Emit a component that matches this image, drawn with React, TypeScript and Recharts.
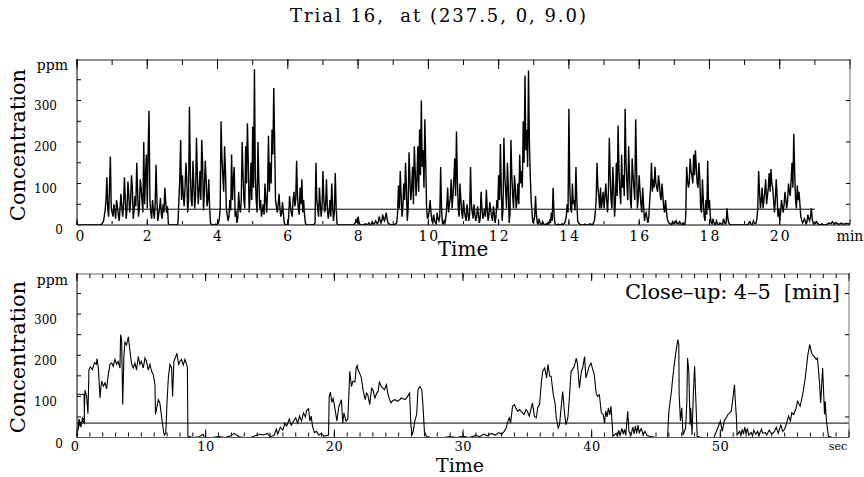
import React from "react";
import { Line, LineChart, XAxis, YAxis } from "recharts";

const serif = "'DejaVu Serif', 'Liberation Serif', serif";

// Top panel: whole trial, one sample every 0.025 min (1.5 s)
const TOP_STEP = 0.025;
const TOP_VALUES = [
  // 0 min
  0, 0, 0, 0, 0, 0, 0, 0, 0, 0, 0, 0, 0, 0, 0, 0, 0, 0, 0, 0, 0, 0, 0, 0, 0, 0, 0, 1, 2, 5, 8, 20, 35, 60, 115, 40, 20, 90, 165, 40,
  // 1
  30, 20, 50, 35, 15, 60, 45, 25, 10, 40, 75, 45, 20, 50, 115, 60, 15, 40, 105, 70, 30, 55, 120, 90, 15, 35, 70, 45, 150, 80, 20, 40, 110, 90, 60, 30, 200, 50, 120, 170,
  // 2
  40, 180, 275, 60, 30, 15, 60, 35, 15, 50, 145, 60, 10, 25, 40, 65, 25, 15, 50, 30, 90, 55, 30, 45, 3, 1, 0, 0, 0, 0, 0, 0, 0, 0, 0, 5, 60, 110, 205, 60,
  // 3
  120, 70, 45, 90, 150, 110, 30, 60, 285, 130, 60, 45, 155, 100, 40, 70, 210, 120, 50, 80, 130, 60, 205, 150, 35, 80, 155, 110, 45, 60, 110, 40, 5, 2, 0, 0, 0, 0, 2, 0,
  // 4
  3, 5, 15, 40, 250, 160, 120, 80, 190, 130, 40, 25, 10, 20, 60, 35, 170, 60, 110, 140, 20, 35, 5, 15, 80, 45, 30, 60, 200, 120, 60, 40, 190, 100, 245, 150, 30, 70, 150, 60,
  // 5
  237, 90, 375, 120, 60, 30, 200, 110, 40, 60, 20, 35, 50, 25, 100, 60, 30, 90, 215, 80, 150, 100, 230, 170, 330, 200, 60, 45, 30, 50, 75, 40, 20, 30, 55, 25, 5, 2, 0, 0,
  // 6
  0, 20, 70, 45, 30, 20, 60, 80, 45, 60, 155, 70, 40, 25, 90, 50, 110, 30, 60, 25, 5, 1, 0, 0, 0, 0, 0, 0, 0, 0, 2, 5, 150, 60, 40, 20, 90, 50, 20, 45,
  // 7
  130, 60, 30, 50, 110, 40, 15, 30, 60, 20, 100, 50, 10, 30, 125, 45, 3, 1, 0, 0, 0, 0, 0, 0, 0, 0, 0, 0, 0, 0, 0, 0, 0, 0, 0, 0, 3, 6, 15, 5,
  // 8
  20, 8, 2, 0, 0, 0, 0, 1, 3, 2, 0, 1, 5, 3, 0, 2, 8, 4, 2, 5, 10, 6, 3, 8, 20, 12, 5, 10, 25, 15, 10, 18, 30, 15, 5, 3, 2, 1, 0, 0,
  // 9
  0, 1, 2, 3, 5, 30, 95, 40, 130, 70, 20, 45, 100, 60, 150, 90, 10, 40, 175, 110, 60, 90, 140, 50, 190, 130, 70, 110, 190, 80, 230, 120, 300, 140, 180, 90, 255, 150, 40, 15,
  // 10
  20, 35, 60, 30, 10, 5, 25, 12, 5, 3, 30, 15, 10, 20, 140, 40, 5, 2, 10, 5, 20, 45, 90, 30, 50, 65, 110, 40, 70, 110, 160, 70, 225, 110, 40, 20, 100, 60, 30, 15,
  // 11
  60, 35, 20, 10, 50, 30, 10, 25, 140, 50, 30, 15, 50, 25, 10, 20, 45, 25, 5, 15, 80, 40, 15, 25, 40, 20, 85, 40, 10, 25, 55, 35, 20, 10, 45, 30, 5, 20, 60, 40,
  // 12
  120, 60, 195, 90, 10, 40, 210, 120, 80, 40, 150, 90, 5, 30, 205, 120, 70, 40, 120, 90, 40, 60, 100, 50, 170, 100, 130, 90, 250, 150, 360, 180, 230, 140, 372, 200, 120, 60, 30, 5,
  // 13
  10, 20, 70, 25, 5, 2, 15, 6, 2, 1, 8, 4, 0, 0, 3, 1, 5, 2, 10, 5, 30, 10, 90, 30, 5, 2, 0, 0, 2, 1, 0, 0, 3, 1, 2, 4, 10, 20, 50, 30,
  // 14
  280, 90, 40, 30, 100, 50, 60, 35, 140, 60, 10, 5, 3, 1, 0, 0, 0, 0, 2, 1, 0, 0, 0, 1, 3, 2, 0, 1, 5, 10, 30, 60, 150, 90, 70, 40, 90, 40, 60, 80,
  // 15
  40, 70, 100, 60, 30, 80, 210, 120, 60, 40, 140, 90, 20, 60, 150, 70, 240, 130, 80, 50, 170, 90, 120, 70, 280, 150, 100, 60, 190, 120, 60, 40, 160, 120, 90, 60, 255, 140, 40, 70,
  // 16
  120, 80, 50, 30, 90, 50, 10, 25, 30, 15, 5, 20, 60, 90, 150, 80, 110, 90, 140, 100, 90, 80, 120, 100, 70, 60, 100, 70, 40, 30, 60, 35, 15, 8, 5, 3, 2, 1, 8, 4,
  // 17
  3, 6, 10, 4, 5, 2, 8, 5, 2, 1, 5, 2, 0, 20, 140, 110, 90, 100, 160, 130, 120, 100, 170, 120, 180, 140, 100, 90, 150, 110, 40, 30, 110, 60, 20, 10, 60, 25, 155, 40,
  // 18
  60, 20, 5, 3, 15, 6, 2, 1, 10, 4, 0, 1, 5, 3, 2, 1, 15, 8, 3, 5, 40, 15, 5, 2, 0, 0, 0, 0, 0, 0, 0, 0, 0, 0, 0, 0, 0, 0, 0, 0,
  // 19
  0, 0, 0, 0, 2, 5, 8, 3, 0, 2, 10, 5, 3, 4, 15, 40, 130, 80, 40, 60, 90, 40, 60, 80, 110, 50, 70, 90, 125, 80, 135, 100, 90, 60, 30, 60, 110, 70, 20, 40,
  // 20
  10, 30, 60, 45, 30, 50, 80, 60, 40, 60, 100, 80, 70, 110, 150, 90, 220, 130, 60, 40, 95, 60, 80, 50, 20, 12, 5, 8, 15, 10, 3, 6, 25, 15, 10, 20, 40, 15, 5, 2,
  // 21
  3, 5, 8, 4, 2, 1, 0, 1, 3, 1, 0, 0, 0, 1, 2, 3, 5, 4, 3, 5, 8, 5, 2, 4, 6, 4, 3, 2, 2, 3, 5, 3, 2, 2, 3, 3, 4, 3, 3, 2,
  // 22
  2,
];

// Bottom panel: close-up of 4-5 min, [seconds, ppm]
const CLOSEUP_POINTS: [number, number][] = [
  [0, 105], [0.55, 105], [0.58, 40], [0.42, 48], [0.3, 25], [0.15, 45], [0.05, 15], [0.2, 35], [0.45, 40], [0.55, 35],
  [0.62, 115], [0.75, 100], [0.85, 58], [0.93, 165], [1.05, 172], [1.2, 165], [1.35, 182], [1.5, 178], [1.55, 192],
  [1.66, 169], [1.79, 96], [1.85, 120], [1.92, 137], [2.05, 125], [2.18, 133], [2.3, 118], [2.43, 153], [2.56, 178],
  [2.7, 181], [2.82, 173], [2.95, 190], [3.08, 178], [3.2, 185], [3.34, 169], [3.39, 250], [3.47, 238], [3.55, 80],
  [3.65, 201], [3.73, 232], [3.85, 225], [3.99, 245], [4.12, 210], [4.25, 178], [4.37, 169], [4.5, 181], [4.63, 164],
  [4.76, 197], [4.89, 178], [5.0, 185], [5.15, 169], [5.28, 193], [5.4, 185], [5.54, 164], [5.67, 178], [5.8, 161],
  [5.93, 153], [6.06, 128], [6.1, 56], [6.2, 72], [6.32, 92], [6.44, 84], [6.52, 64], [6.65, 31], [6.78, 6], [6.9, 10],
  [7.0, 88], [7.1, 145], [7.22, 178], [7.35, 169], [7.43, 100], [7.53, 185], [7.68, 197], [7.76, 205], [7.9, 178],
  [8.0, 185], [8.13, 190], [8.26, 176], [8.39, 190], [8.52, 178], [8.58, 170], [8.62, 3],
  [9.0, 0], [9.5, 2], [9.8, 8], [9.9, 0], [10.5, 0], [11.0, 2], [11.5, 0], [12.0, 5], [12.2, 10], [12.4, 6], [12.6, 2],
  [13.0, 0], [13.5, 0], [13.9, 5], [14.2, 8], [14.5, 6], [14.8, 10], [15.0, 2], [15.3, 5], [15.5, 20], [15.6, 8],
  [15.8, 25], [16.0, 18], [16.15, 35], [16.3, 28], [16.5, 45], [16.65, 30], [16.8, 38], [17.0, 48], [17.15, 35],
  [17.3, 52], [17.45, 40], [17.6, 60], [17.75, 50], [17.85, 66], [18.0, 70], [18.1, 40], [18.2, 52], [18.3, 28],
  [18.45, 12], [18.6, 15], [18.8, 6], [19.0, 10], [19.2, 3], [19.4, 5], [19.55, 6], [19.6, 100], [19.7, 110],
  [19.8, 85], [19.9, 95], [20.0, 80],
  [20.1, 60], [20.2, 40], [20.35, 75], [20.55, 92], [20.65, 35], [20.75, 60], [20.9, 40], [21.05, 45], [21.15, 120],
  [21.2, 161], [21.33, 124], [21.45, 137], [21.6, 135], [21.7, 169], [21.78, 175], [21.85, 164], [21.97, 156],
  [22.1, 145], [22.25, 112], [22.4, 92], [22.5, 108], [22.6, 104], [22.75, 80], [22.9, 120], [23.0, 116], [23.15, 96],
  [23.3, 108], [23.4, 112], [23.5, 135], [23.65, 124], [23.9, 116], [24.05, 128], [24.15, 108], [24.3, 92], [24.4, 84],
  [24.55, 90], [24.7, 92], [24.95, 88], [25.2, 96], [25.5, 92], [25.7, 100], [25.85, 108], [25.95, 31], [26.05, 6],
  [26.15, 18], [26.25, 40], [26.4, 56], [26.5, 116], [26.65, 124], [26.8, 116], [26.9, 72], [27.0, 15], [27.15, 3],
  [27.5, 0], [28.5, 0], [29.0, 2], [29.5, 0], [30.0, 3], [30.5, 0], [31.0, 5], [31.3, 2], [31.6, 8], [31.9, 4],
  [32.2, 10], [32.5, 6], [32.8, 12], [33.0, 8], [33.2, 15], [33.35, 23], [33.5, 40], [33.6, 48], [33.7, 35],
  [33.85, 76], [34.0, 80], [34.1, 72], [34.25, 64], [34.4, 68], [34.5, 64], [34.75, 56], [34.9, 68], [35.0, 64],
  [35.15, 52], [35.3, 72], [35.4, 84], [35.55, 52], [35.7, 48], [35.8, 72], [35.95, 80], [36.1, 137], [36.2, 161],
  [36.35, 169], [36.5, 145], [36.6, 178], [36.75, 149], [36.85, 149], [37.0, 108], [37.15, 84], [37.25, 48],
  [37.4, 23], [37.5, 31], [37.65, 80], [37.75, 112], [37.9, 56], [38.0, 31], [38.15, 48], [38.25, 88], [38.4, 161],
  [38.5, 165], [38.65, 173], [38.8, 193], [38.9, 178], [39.05, 120], [39.2, 161], [39.3, 169], [39.45, 197],
  [39.55, 145], [39.7, 161], [39.8, 173], [39.95, 181], [40.1, 164], [40.2, 153], [40.35, 108], [40.45, 100],
  [40.6, 104], [40.75, 60], [40.9, 56], [41.0, 35], [41.1, 64], [41.2, 50], [41.3, 72], [41.4, 55], [41.5, 76],
  [41.6, 31], [41.65, 3],
  [41.9, 10], [42.0, 3], [42.1, 18], [42.2, 5], [42.35, 22], [42.45, 8], [42.55, 20], [42.65, 5], [42.8, 64],
  [42.9, 15], [43.05, 5], [43.2, 25], [43.3, 8], [43.4, 28], [43.5, 10], [43.6, 30], [43.7, 12], [43.85, 22],
  [44.0, 8], [44.15, 15], [44.3, 5], [44.5, 3], [45.0, 0], [45.5, 0], [45.9, 0], [46.0, 64], [46.2, 112], [46.3, 145],
  [46.45, 185], [46.55, 209], [46.7, 238], [46.77, 226], [46.8, 104], [46.9, 40], [47.0, 72], [47.1, 6], [47.3, 23],
  [47.4, 88], [47.45, 193], [47.55, 161], [47.65, 31], [47.7, 72], [47.8, 6], [47.9, 104], [48.0, 173], [48.1, 88],
  [48.2, 3], [48.5, 0], [49.0, 0], [49.5, 0], [49.8, 23], [50.0, 40], [50.15, 15], [50.3, 40], [50.6, 56],
  [50.85, 64], [50.95, 88], [51.1, 128], [51.15, 96], [51.25, 48], [51.3, 6], [51.5, 15], [51.6, 5], [51.7, 20],
  [51.8, 8], [51.9, 25], [52.0, 10], [52.1, 22], [52.2, 6], [52.4, 12], [52.5, 4], [52.6, 18], [52.75, 8], [52.9, 15],
  [53.0, 5], [53.2, 20], [53.3, 10], [53.5, 12], [53.6, 6], [53.8, 18], [54.0, 8], [54.2, 14], [54.35, 25],
  [54.5, 10], [54.7, 30], [54.85, 15], [55.0, 20], [55.15, 35], [55.3, 52], [55.45, 40], [55.55, 60], [55.7, 56],
  [55.85, 68], [56.0, 88], [56.2, 76], [56.4, 104], [56.6, 145], [56.8, 201], [56.95, 226], [57.1, 205], [57.2, 200],
  [57.3, 197], [57.45, 190], [57.55, 193], [57.7, 137], [57.8, 84], [57.95, 169], [58.1, 56], [58.15, 88],
  [58.25, 40], [58.4, 3], [58.7, 0], [59.2, 0], [59.6, 0], [60, 0],
];

// Horizontal reference levels drawn across each panel
const TOP_REF_SPAN = [1, 21];
const TOP_REF_LEVEL = 38;
const CLOSEUP_REF_SPAN = [0, 60];
const CLOSEUP_REF_LEVEL = 35;

const TOP_X_LABELS = [0, 2, 4, 6, 8, 10, 12, 14, 16, 18, 20, 22];
const TOP_X_MINOR = Array.from({ length: 23 }, (_, i) => i);
const TOP_X_MAJOR = TOP_X_LABELS;
const CLOSEUP_X_LABELS = [0, 10, 20, 30, 40, 50, 60];
const CLOSEUP_X_MINOR = Array.from({ length: 61 }, (_, i) => i);
const CLOSEUP_X_MAJOR = CLOSEUP_X_LABELS;
const Y_LABELS = [0, 100, 200, 300, 400];
const Y_INNER_TICKS = [50, 100, 150, 200, 250, 300, 350];
const TOP_RIGHT_TICKS = [50, 100, 200, 300];
const CLOSEUP_RIGHT_TICKS = [50, 150, 250, 350];

const topData = TOP_VALUES.map((v, i) => ({ t: +(i * TOP_STEP).toFixed(3), v }));
const topRef = TOP_REF_SPAN.map((t) => ({ t, v: TOP_REF_LEVEL }));
const closeupData = CLOSEUP_POINTS.map(([t, v]) => ({ t, v }));
const closeupRef = CLOSEUP_REF_SPAN.map((t) => ({ t, v: CLOSEUP_REF_LEVEL }));

// tick marks only, no label (tick={false} would drop the marks too)
const NoLabel = () => <g />;

function XTickLabel(props: any) {
  const { x, y, payload, unit, unitValue, size, spacing, zeroShift, unitShift, unitSize, dy } = props;
  const v = payload.value;
  if (v === unitValue) {
    return (
      <text x={x + unitShift} y={y + dy} textAnchor="middle" dominantBaseline="central" fontSize={unitSize} fontFamily={serif} fill="#000">
        {unit}
      </text>
    );
  }
  return (
    <text
      x={x + (v === 0 ? zeroShift : 0) + spacing / 2}
      y={y + dy}
      textAnchor="middle"
      dominantBaseline="central"
      fontSize={size}
      letterSpacing={spacing}
      fontFamily={serif}
      fill="#000"
    >
      {v}
    </text>
  );
}

function YTickLabel(props: any) {
  const { x, y, payload, dy } = props;
  const v = payload.value;
  if (v === 400) {
    return (
      <text x={x - 9} y={y + dy + 1} textAnchor="end" dominantBaseline="central" fontSize={14} fontFamily={serif} fill="#000">
        ppm
      </text>
    );
  }
  if (v === 0) {
    return (
      <text x={x - 18} y={y + dy} textAnchor="middle" dominantBaseline="central" fontSize={12} fontFamily={serif} fill="#000">
        0
      </text>
    );
  }
  return (
    <text x={x - 20} y={y + dy} textAnchor="end" dominantBaseline="central" fontSize={12} fontFamily={serif} fill="#000">
      {v}
    </text>
  );
}

function Panel(props: any) {
  const { top, height, margin, data, refData, xMax, labels, minor, major, rightTicks, xTick, yTick, topStroke, bottomStroke, topLen, botLen, traceWidth } = props;
  const dom = [0, xMax];
  const yDom = [0, 400];
  const mark = { stroke: "#000", strokeWidth: 1 };
  return (
    <div style={{ position: "absolute", left: 0, top, width: 864, height }}>
      <LineChart width={864} height={height} margin={margin} data={data}>
        <XAxis
          xAxisId="main"
          dataKey="t"
          type="number"
          domain={dom}
          allowDataOverflow
          ticks={labels}
          interval={0}
          height={20}
          tickSize={0}
          tickMargin={0}
          tickLine={false}
          stroke={bottomStroke}
          tick={xTick}
        />
        <XAxis xAxisId="bMinor" dataKey="t" type="number" domain={dom} allowDataOverflow ticks={minor} interval={0} orientation="bottom" mirror height={1} tickSize={botLen[0]} tick={NoLabel} tickLine={mark} axisLine={false} />
        <XAxis xAxisId="bMajor" dataKey="t" type="number" domain={dom} allowDataOverflow ticks={major} interval={0} orientation="bottom" mirror height={1} tickSize={botLen[1]} tick={NoLabel} tickLine={mark} axisLine={false} />
        <XAxis xAxisId="tMinor" dataKey="t" type="number" domain={dom} allowDataOverflow ticks={minor} interval={0} orientation="top" mirror height={1} tickSize={topLen[0]} tick={NoLabel} tickLine={mark} axisLine={{ stroke: topStroke }} />
        <XAxis xAxisId="tMajor" dataKey="t" type="number" domain={dom} allowDataOverflow ticks={major} interval={0} orientation="top" mirror height={1} tickSize={topLen[1]} tick={NoLabel} tickLine={mark} axisLine={false} />
        <YAxis
          yAxisId="main"
          dataKey="v"
          type="number"
          domain={yDom}
          allowDataOverflow
          ticks={Y_LABELS}
          interval={0}
          width={60}
          tickSize={0}
          tickMargin={0}
          tickLine={false}
          stroke="#000"
          tick={yTick}
        />
        <YAxis yAxisId="lTicks" dataKey="v" type="number" domain={yDom} allowDataOverflow ticks={Y_INNER_TICKS} interval={0} mirror width={1} tickSize={4} tick={NoLabel} tickLine={mark} axisLine={false} />
        <YAxis yAxisId="rTicks" dataKey="v" type="number" domain={yDom} allowDataOverflow ticks={rightTicks} interval={0} orientation="right" mirror width={1} tickSize={4} tick={NoLabel} tickLine={mark} axisLine={{ stroke: "#777" }} />
        <Line xAxisId="main" yAxisId="main" type="linear" dataKey="v" stroke="#000" strokeWidth={traceWidth} dot={false} isAnimationActive={false} />
        <Line xAxisId="main" yAxisId="main" type="linear" data={refData} dataKey="v" stroke="#000" strokeWidth={1} dot={false} isAnimationActive={false} />
      </LineChart>
    </div>
  );
}

export default function App() {
  return (
    <div style={{ position: "absolute", left: 0, top: 0, width: 864, height: 477, background: "#fff", fontFamily: serif }}>
      <Panel
        top={0}
        height={250}
        margin={{ top: 59, right: 14, bottom: 5, left: 17 }}
        data={topData}
        refData={topRef}
        xMax={22}
        labels={TOP_X_LABELS}
        minor={TOP_X_MINOR}
        major={TOP_X_MAJOR}
        rightTicks={TOP_RIGHT_TICKS}
        topStroke="#222"
        bottomStroke="#000"
        topLen={[5, 10]}
        botLen={[3, 6]}
        traceWidth={1.4}
        xTick={<XTickLabel unit="min" unitValue={22} size={14} spacing={2} zeroShift={3} unitShift={0} unitSize={14} dy={11} />}
        yTick={<YTickLabel dy={5} />}
      />
      <Panel
        top={250}
        height={227}
        margin={{ top: 23, right: 15, bottom: 19.5, left: 17 }}
        data={closeupData}
        refData={closeupRef}
        xMax={60}
        labels={CLOSEUP_X_LABELS}
        minor={CLOSEUP_X_MINOR}
        major={CLOSEUP_X_MAJOR}
        rightTicks={CLOSEUP_RIGHT_TICKS}
        topStroke="#666"
        bottomStroke="#555"
        topLen={[4, 8]}
        botLen={[4, 8]}
        traceWidth={1.1}
        xTick={<XTickLabel unit="sec" unitValue={60} size={13} spacing={0.5} zeroShift={-2} unitShift={-11} unitSize={11} dy={9} />}
        yTick={<YTickLabel dy={6} />}
      />
      <svg width={864} height={477} style={{ position: "absolute", left: 0, top: 0, pointerEvents: "none" }}>
        <text x={290} y={22} textLength={296} lengthAdjust="spacing" fontSize={18} fontFamily={serif} fill="#000" style={{ whiteSpace: "pre" }}>
          {"Trial 16,  at (237.5, 0, 9.0)"}
        </text>
        <text transform="translate(25,145) rotate(-90)" textAnchor="middle" fontSize={21} fontFamily={serif} fill="#000">
          Concentration
        </text>
        <text transform="translate(25,357) rotate(-90)" textAnchor="middle" fontSize={21} fontFamily={serif} fill="#000">
          Concentration
        </text>
        <text x={463} y={256} textAnchor="middle" fontSize={20} fontFamily={serif} fill="#000">
          Time
        </text>
        <text x={460} y={472} textAnchor="middle" fontSize={19} fontFamily={serif} fill="#000">
          Time
        </text>
        <text x={625} y={299} textLength={215} lengthAdjust="spacing" fontSize={21} fontFamily={serif} fill="#000" style={{ whiteSpace: "pre" }}>
          {"Close\u2013up: 4\u20135  [min]"}
        </text>
      </svg>
    </div>
  );
}
